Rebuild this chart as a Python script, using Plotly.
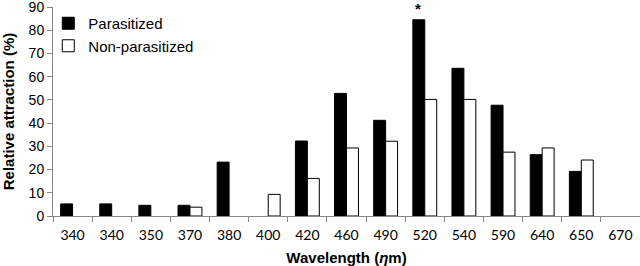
import plotly.graph_objects as go

wavelengths = ["340", "340", "350", "370", "380", "400", "420", "460", "490",
               "520", "540", "590", "640", "650", "670"]
parasitized = [5.2, 5.2, 4.6, 4.6, 23.2, None, 32.3, 52.8, 41.2, 84.5, 63.6, 47.7, 26.4, 19.2, None]
non_parasitized = [None, None, None, 3.8, None, 9.3, 16.2, 29.3, 32.2, 50.2, 50.2, 27.5, 29.3, 24.1, None]
y_ticks = [0, 10, 20, 30, 40, 50, 60, 70, 80, 90]

idx = list(range(len(wavelengths)))
font = "Liberation Sans, Arial, sans-serif"

fig = go.Figure()
fig.add_trace(go.Bar(x=idx, y=parasitized, name="Parasitized",
                     marker=dict(color="black", line=dict(color="black", width=1))))
fig.add_trace(go.Bar(x=idx, y=non_parasitized, name="Non-parasitized",
                     marker=dict(color="white", line=dict(color="black", width=1))))

# significance marker above the 520 parasitized bar
sig_i = wavelengths.index("520")
fig.add_annotation(x=sig_i, xref="x", xshift=-7, y=parasitized[sig_i], yref="y",
                   text="<b>*</b>", showarrow=False, yanchor="middle", yshift=11,
                   font=dict(size=15, family=font, color="black"))

n = len(wavelengths)
fig.update_layout(
    width=640, height=266,
    margin=dict(l=53, r=0, t=7, b=50),
    paper_bgcolor="white", plot_bgcolor="white",
    barmode="group", bargap=0.39, bargroupgap=0,
    font=dict(family=font, color="black", size=13),
    showlegend=True,
    legend=dict(x=-0.008, y=1.0, xanchor="left", yanchor="top",
                bgcolor="rgba(0,0,0,0)", font=dict(size=15, family=font),
                tracegroupgap=0, itemwidth=30),
    xaxis=dict(range=[-0.5, n - 0.5], tickmode="array",
               tickvals=[i - 0.5 for i in range(n + 1)], showticklabels=False,
               ticks="outside", ticklen=5, tickcolor="#888", showline=True,
               linecolor="#888", linewidth=1, showgrid=False, zeroline=False),
    xaxis2=dict(range=[-0.5, n - 0.5], overlaying="x", anchor="y", side="bottom",
                tickmode="array", tickvals=idx, ticktext=wavelengths,
                ticks="outside", ticklen=6, tickcolor="rgba(0,0,0,0)",
                showline=False, showgrid=False, zeroline=False,
                tickfont=dict(size=14, family="Lato, Liberation Sans, sans-serif"),
                title=dict(text="<b>Wavelength (<i>η</i>m)</b>", standoff=10,
                           font=dict(size=15, family=font))),
    yaxis=dict(range=[0, 90], tickmode="array", tickvals=y_ticks,
               ticks="outside", ticklen=5, tickcolor="#888", showline=True,
               linecolor="#888", linewidth=1, showgrid=False, zeroline=False,
               ticklabeloverflow="allow",
               tickfont=dict(size=14, family=font),
               title=dict(text="<b>Relative attraction (%)</b>", standoff=12,
                          font=dict(size=15, family=font))),
)
# invisible trace to activate xaxis2
fig.add_trace(go.Scatter(x=[0], y=[0], xaxis="x2", mode="markers",
                         marker=dict(opacity=0), showlegend=False, hoverinfo="skip"))

fig.write_html("out.html")
